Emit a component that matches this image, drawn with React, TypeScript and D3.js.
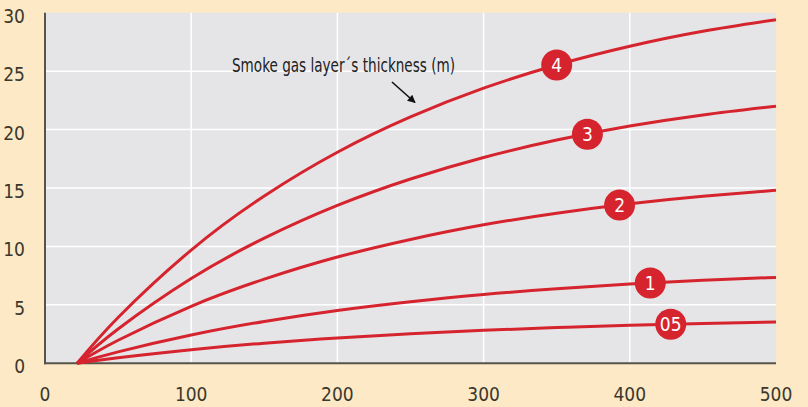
import React from "react";
import * as d3 from "d3";

const xPoints = [22, 50, 100, 150, 200, 250, 300, 350, 400, 450, 500];
const seriesNames = ["05", "1", "2", "3", "4"];
const series05 = [0, 0.47, 1.16, 1.72, 2.17, 2.53, 2.82, 3.06, 3.26, 3.41, 3.53];
const series1 = [0, 0.98, 2.42, 3.58, 4.52, 5.27, 5.89, 6.38, 6.78, 7.1, 7.35];
const series2 = [0, 1.97, 4.88, 7.2, 9.09, 10.6, 11.85, 12.84, 13.65, 14.29, 14.8];
const series3 = [0, 2.93, 7.25, 10.71, 13.51, 15.77, 17.61, 19.1, 20.3, 21.25, 22.0];
const series4 = [0, 3.92, 9.69, 14.32, 18.06, 21.08, 23.54, 25.53, 27.13, 28.41, 29.4];
const badgeX = [428, 414, 393, 371, 350];
const xTicks = [0, 100, 200, 300, 400, 500];
const yTicks = [0, 5, 10, 15, 20, 25, 30];
const annotation = "Smoke gas layer´s thickness (m)";

const W = 808;
const H = 407;
const left = 45;
const right = 776;
const top = 12.7;
const bottom = 363.3;

const FONT = "'Liberation Sans Narrow', 'DejaVu Sans Condensed', 'Arial Narrow', sans-serif";
const RED = "#d6242e";
const TEXT = "#3a382d";

export default function App() {
  const x = d3.scaleLinear().domain([0, 500]).range([left, right]);
  const y = d3.scaleLinear().domain([0, 30]).range([bottom, top]);
  const all = [series05, series1, series2, series3, series4];
  const line = d3
    .line<number>()
    .x((_, i) => x(xPoints[i]))
    .y((d) => y(d))
    .curve(d3.curveNatural);

  const interp = (vals: number[], xv: number) => {
    const i = Math.max(1, d3.bisectLeft(xPoints, xv));
    const x0 = xPoints[i - 1], x1 = xPoints[i];
    const t = (xv - x0) / (x1 - x0);
    return vals[i - 1] + t * (vals[i] - vals[i - 1]);
  };

  return (
    <svg
      width={W}
      height={H}
      style={{ position: "fixed", left: 0, top: 0, display: "block" }}
    >
      <defs>
        <marker id="ah" viewBox="0 0 10 10" refX="9" refY="5" markerWidth="10" markerHeight="8" orient="auto" markerUnits="userSpaceOnUse">
          <path d="M0,0 L10,5 L0,10 z" fill="#111" />
        </marker>
        <clipPath id="plotclip">
          <rect x={left} y={top - 3} width={right - left + 1} height={bottom - top + 6} />
        </clipPath>
      </defs>
      <rect x={0} y={0} width={W} height={H} fill="#fde9c6" />
      <rect x={left} y={top} width={right - left} height={bottom - top} fill="#e5e5e8" />
      {yTicks.filter((t) => t > 0 && t < 30).map((t) => (
        <line key={"gy" + t} x1={left} x2={right} y1={y(t)} y2={y(t)} stroke="#fff" strokeWidth={1.5} />
      ))}
      {xTicks.filter((t) => t > 0 && t < 500).map((t) => (
        <line key={"gx" + t} x1={x(t)} x2={x(t)} y1={top} y2={bottom} stroke="#fff" strokeWidth={1.5} />
      ))}
      <line x1={left} x2={left} y1={top} y2={bottom + 1} stroke="#55534a" strokeWidth={2} />
      <line x1={left - 1} x2={right} y1={bottom} y2={bottom} stroke="#55534a" strokeWidth={2} />
      <g clipPath="url(#plotclip)">
        {all.map((s, i) => (
          <path key={"s" + i} d={line(s) || ""} fill="none" stroke={RED} strokeWidth={3} strokeLinejoin="round" />
        ))}
      </g>
      {all.map((s, i) => {
        const bx = x(badgeX[i]);
        const by = y(interp(s, badgeX[i]));
        return (
          <g key={"b" + i}>
            <circle cx={bx} cy={by} r={15.5} fill={RED} />
            <text x={bx} y={by + 7} textAnchor="middle" fill="#fff" fontFamily={FONT} fontSize={19}>
              {seriesNames[i]}
            </text>
          </g>
        );
      })}
      {yTicks.map((t) => (
        <text key={"yl" + t} x={25} y={y(t) + 10} textAnchor="end" fill={TEXT} fontFamily={FONT} fontSize={19}>
          {t}
        </text>
      ))}
      {xTicks.map((t) => (
        <text key={"xl" + t} x={x(t)} y={401} textAnchor="middle" fill={TEXT} fontFamily={FONT} fontSize={19}>
          {t}
        </text>
      ))}
      <text x={232} y={72} fill="#222" fontFamily={FONT} fontSize={20} textLength={223} lengthAdjust="spacingAndGlyphs">
        {annotation}
      </text>
      <line x1={392} y1={82} x2={415} y2={102.5} stroke="#111" strokeWidth={1.6} markerEnd="url(#ah)" />
    </svg>
  );
}
